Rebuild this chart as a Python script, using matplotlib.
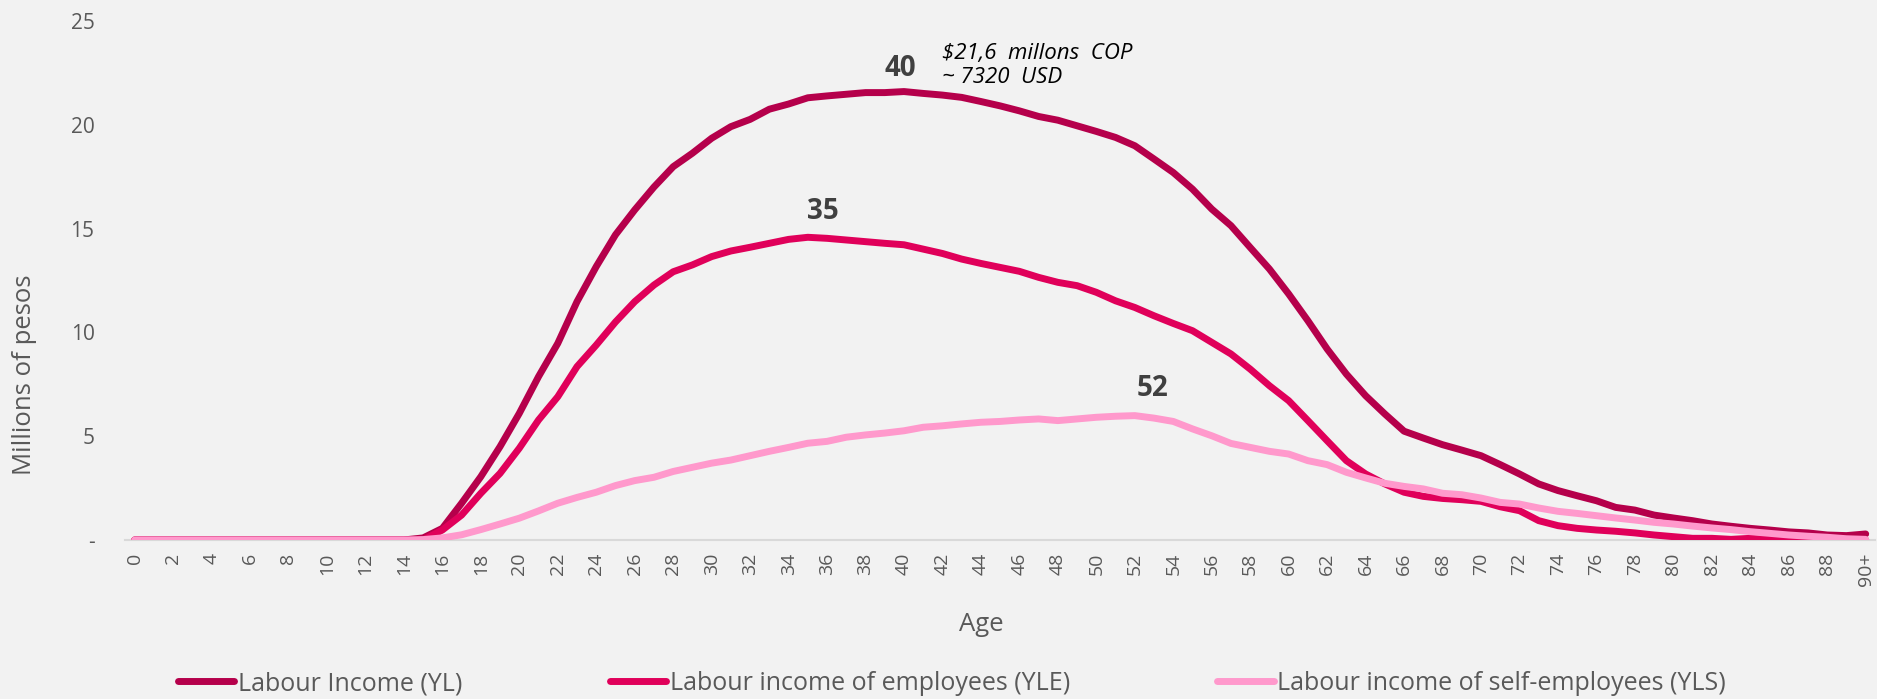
import matplotlib
matplotlib.use("Agg")
import matplotlib.pyplot as plt

plt.rcParams['font.family'] = ['Open Sans', 'DejaVu Sans']

ages = [str(a) for a in range(90)] + ["90+"]

yl = [0.0] * 15 + [
    0.1, 0.56, 1.77, 3.05, 4.5, 6.1, 7.87, 9.47, 11.48, 13.17,
    14.7, 15.9, 17.0, 17.98, 18.63, 19.35, 19.91, 20.26, 20.75, 21.0,
    21.3, 21.39, 21.47, 21.55, 21.55, 21.6, 21.51, 21.43, 21.32, 21.12,
    20.91, 20.67, 20.4, 20.22, 19.95, 19.68, 19.39, 18.99, 18.35, 17.7,
    16.9, 15.94, 15.14, 14.09, 13.05, 11.85, 10.56, 9.2, 7.99, 6.95,
    6.07, 5.24, 4.91, 4.59, 4.33, 4.06, 3.63, 3.18, 2.7, 2.38,
    2.13, 1.89, 1.57, 1.44, 1.2, 1.06, 0.93, 0.77, 0.66, 0.56,
    0.48, 0.39, 0.34, 0.24, 0.21, 0.29]

yle = [0.0] * 16 + [
    0.48, 1.2, 2.25, 3.21, 4.42, 5.78, 6.9, 8.35, 9.39,
    10.5, 11.48, 12.28, 12.92, 13.25, 13.65, 13.92, 14.1, 14.29, 14.48,
    14.58, 14.53, 14.45, 14.37, 14.29, 14.22, 14.01, 13.8, 13.53, 13.32,
    13.13, 12.94, 12.65, 12.41, 12.25, 11.93, 11.52, 11.2, 10.8, 10.43,
    10.08, 9.52, 8.96, 8.23, 7.43, 6.71, 5.75, 4.78, 3.82, 3.18,
    2.7, 2.3, 2.1, 2.0, 1.94, 1.86, 1.6, 1.41, 0.93, 0.69,
    0.56, 0.48, 0.42, 0.34, 0.24, 0.16, 0.08, 0.08, 0.03, 0.08,
    0.04, 0.02, 0.02, 0.0, 0.0, 0.0]

yls = [0.0] * 15 + [
    0.02, 0.1, 0.25, 0.5, 0.77, 1.05, 1.4, 1.77, 2.05, 2.3,
    2.62, 2.86, 3.02, 3.3, 3.5, 3.7, 3.85, 4.06, 4.27, 4.46,
    4.66, 4.75, 4.95, 5.06, 5.15, 5.26, 5.43, 5.5, 5.59, 5.67,
    5.71, 5.78, 5.83, 5.75, 5.83, 5.91, 5.96, 5.99, 5.87, 5.71,
    5.35, 5.02, 4.65, 4.46, 4.27, 4.14, 3.82, 3.63, 3.26, 2.99,
    2.73, 2.58, 2.46, 2.25, 2.18, 2.02, 1.81, 1.73, 1.54, 1.38,
    1.28, 1.17, 1.06, 0.96, 0.85, 0.77, 0.67, 0.58, 0.5, 0.4,
    0.32, 0.24, 0.18, 0.13, 0.06, 0.03]

series_names = ["Labour Income (YL)", "Labour income of employees (YLE)",
                "Labour income of self-employees (YLS)"]
colors = ["#B5004B", "#E0005A", "#FF99CC"]

yticks = [0, 5, 10, 15, 20, 25]
ytick_labels = ["-", "5", "10", "15", "20", "25"]

peak_labels = ["40", "35", "52"]
peak_pos = [(39.8, 22.69), (35.8, 15.8), (52.9, 7.32)]
note_text = "$21,6  millons  COP\n~ 7320  USD"

bg = "#F2F2F2"
txt = "#595959"

fig = plt.figure(figsize=(18.77, 6.99), dpi=100, facecolor=bg)
ax = fig.add_axes([0.0666, 0.2275, 0.9325, 0.7425])
ax.set_facecolor(bg)

x = list(range(len(ages)))
lines = []
for vals, name, c in zip([yl, yle, yls], series_names, colors):
    ln, = ax.plot(x, vals, color=c, lw=5.0, solid_capstyle='round',
                  solid_joinstyle='round', label=name)
    lines.append(ln)

ax.set_xlim(-0.5, 90.5)
ax.set_ylim(0, 25)
for s in ["top", "right", "left"]:
    ax.spines[s].set_visible(False)
ax.spines["bottom"].set_color("#D9D9D9")
ax.spines["bottom"].set_linewidth(1.5)
ax.spines["bottom"].set_zorder(0)

tick_idx = list(range(0, 90, 2)) + [90]
ax.set_xticks(tick_idx)
ax.set_xticklabels([ages[i] for i in tick_idx], rotation=90, fontsize=14, color=txt)
ax.set_yticks(yticks)
ax.set_yticklabels(ytick_labels, fontsize=15, color=txt)
ax.tick_params(axis='x', length=0, pad=9)
ax.tick_params(axis='y', length=0, pad=22)

ax.set_ylabel("Millions of pesos", fontsize=18.5, color=txt)
ax.yaxis.set_label_coords(-0.0577, 0.318)
ax.yaxis.label.set_va('center')
ax.set_xlabel("Age", fontsize=18.5, color=txt)
ax.xaxis.set_label_coords(0.489, -0.162)
ax.xaxis.label.set_va('center')

for lab, (px, py) in zip(peak_labels, peak_pos):
    ax.text(px, py, lab, ha='center', va='center', fontsize=20,
            fontweight='bold', color="#404040")

ax.text(41.97, 22.86, note_text, ha='left', va='center', fontsize=16,
        style='italic', color="#000000", linespacing=1.2)

fig.legend(handles=lines, loc='center', bbox_to_anchor=(952 / 1877, 0.022),
           ncol=3, frameon=False, fontsize=18, handlelength=2.25,
           handletextpad=0.15, columnspacing=5.9, labelcolor=txt)

fig.savefig("out.png", dpi=100, facecolor=bg)
